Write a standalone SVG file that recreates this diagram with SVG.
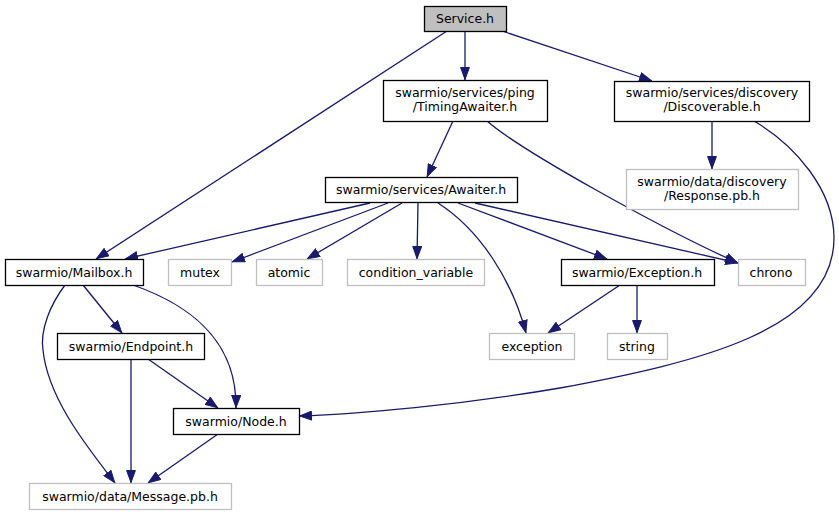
<svg xmlns="http://www.w3.org/2000/svg" width="839" height="515" viewBox="0 0 839 515">
<style>
.n rect{fill:#fff;stroke:#000;stroke-width:1.3}
.x rect{fill:#fff;stroke:#bfbfbf;stroke-width:1.3}
text{font-family:"DejaVu Sans",sans-serif;font-size:12.5px;text-anchor:middle;fill:#000}
.e path{fill:none;stroke:#191970;stroke-width:1.3;marker-end:url(#a)}
</style>
<defs>
<marker id="a" markerUnits="userSpaceOnUse" viewBox="0 0 13 10" refX="13" refY="5" markerWidth="13" markerHeight="10" orient="auto">
<path d="M0.5,0.6 L12.5,5 L0.5,9.4 z" fill="#191970" stroke="#191970" stroke-width="1"/>
</marker>
</defs>
<rect width="839" height="515" fill="#fff"/>
<g class="e" id="edges">
<path d="M465,31 L465,80"/>
<path d="M447,31 L96,259"/>
<path d="M502,31 L652,81"/>
<path d="M453,121 L427,177"/>
<path d="M487,121 C520,150 660,228 738,263"/>
<path d="M712,121 L712,169"/>
<path d="M754,121 C795,145 834,190 834,238 C834,330 700,362 560,388 C460,405 360,414 299,416"/>
<path d="M370,203 L125,259"/>
<path d="M388,203 L232,262"/>
<path d="M402,203 L307,259"/>
<path d="M418,203 L417,259"/>
<path d="M438,203 C480,230 512,280 526,333"/>
<path d="M458,203 L607,259"/>
<path d="M475,203 L738,263"/>
<path d="M620,285 L548,333"/>
<path d="M637,285 L637,333"/>
<path d="M83,285 L122,333"/>
<path d="M133,285 C190,305 237,340 236,408"/>
<path d="M65,285 C50,305 40,330 43,350 C48,400 90,450 115,483"/>
<path d="M131,359 L131,483"/>
<path d="M148,359 L218,408"/>
<path d="M218,434 L148,483"/>
</g>
<g id="service" class="n"><rect x="424.5" y="6.5" width="82" height="25" style="fill:#bfbfbf"/><text x="465" y="23">Service.h</text></g>
<g id="timing" class="n"><rect x="383.5" y="80.5" width="164" height="41"/><text x="465" y="97">swarmio/services/ping</text><text x="465" y="111">/TimingAwaiter.h</text></g>
<g id="discoverable" class="n"><rect x="614.5" y="81.5" width="195" height="40"/><text x="712" y="97">swarmio/services/discovery</text><text x="712" y="111">/Discoverable.h</text></g>
<g id="response" class="x"><rect x="626.5" y="169.5" width="172" height="40"/><text x="712" y="186">swarmio/data/discovery</text><text x="712" y="200">/Response.pb.h</text></g>
<g id="awaiter" class="n"><rect x="325.5" y="177.5" width="192" height="25"/><text x="421" y="194">swarmio/services/Awaiter.h</text></g>
<g id="mailbox" class="n"><rect x="5.5" y="259.5" width="138" height="26"/><text x="74" y="277">swarmio/Mailbox.h</text></g>
<g id="mutex" class="x"><rect x="168.5" y="259.5" width="63" height="26"/><text x="200" y="277">mutex</text></g>
<g id="atomic" class="x"><rect x="256.5" y="259.5" width="66" height="26"/><text x="289" y="277">atomic</text></g>
<g id="condvar" class="x"><rect x="347.5" y="259.5" width="137" height="26"/><text x="416" y="277">condition_variable</text></g>
<g id="exceptionh" class="n"><rect x="561.5" y="259.5" width="153" height="26"/><text x="637" y="277">swarmio/Exception.h</text></g>
<g id="chrono" class="x"><rect x="738.5" y="259.5" width="67" height="26"/><text x="771" y="277">chrono</text></g>
<g id="exception" class="x"><rect x="489.5" y="333.5" width="85" height="26"/><text x="532" y="351">exception</text></g>
<g id="string" class="x"><rect x="607.5" y="333.5" width="60" height="26"/><text x="637" y="351">string</text></g>
<g id="endpoint" class="n"><rect x="57.5" y="333.5" width="147" height="26"/><text x="131" y="351">swarmio/Endpoint.h</text></g>
<g id="node" class="n"><rect x="173.5" y="408.5" width="126" height="26"/><text x="236" y="426">swarmio/Node.h</text></g>
<g id="message" class="x"><rect x="29.5" y="483.5" width="202" height="26"/><text x="130" y="501">swarmio/data/Message.pb.h</text></g>
</svg>
